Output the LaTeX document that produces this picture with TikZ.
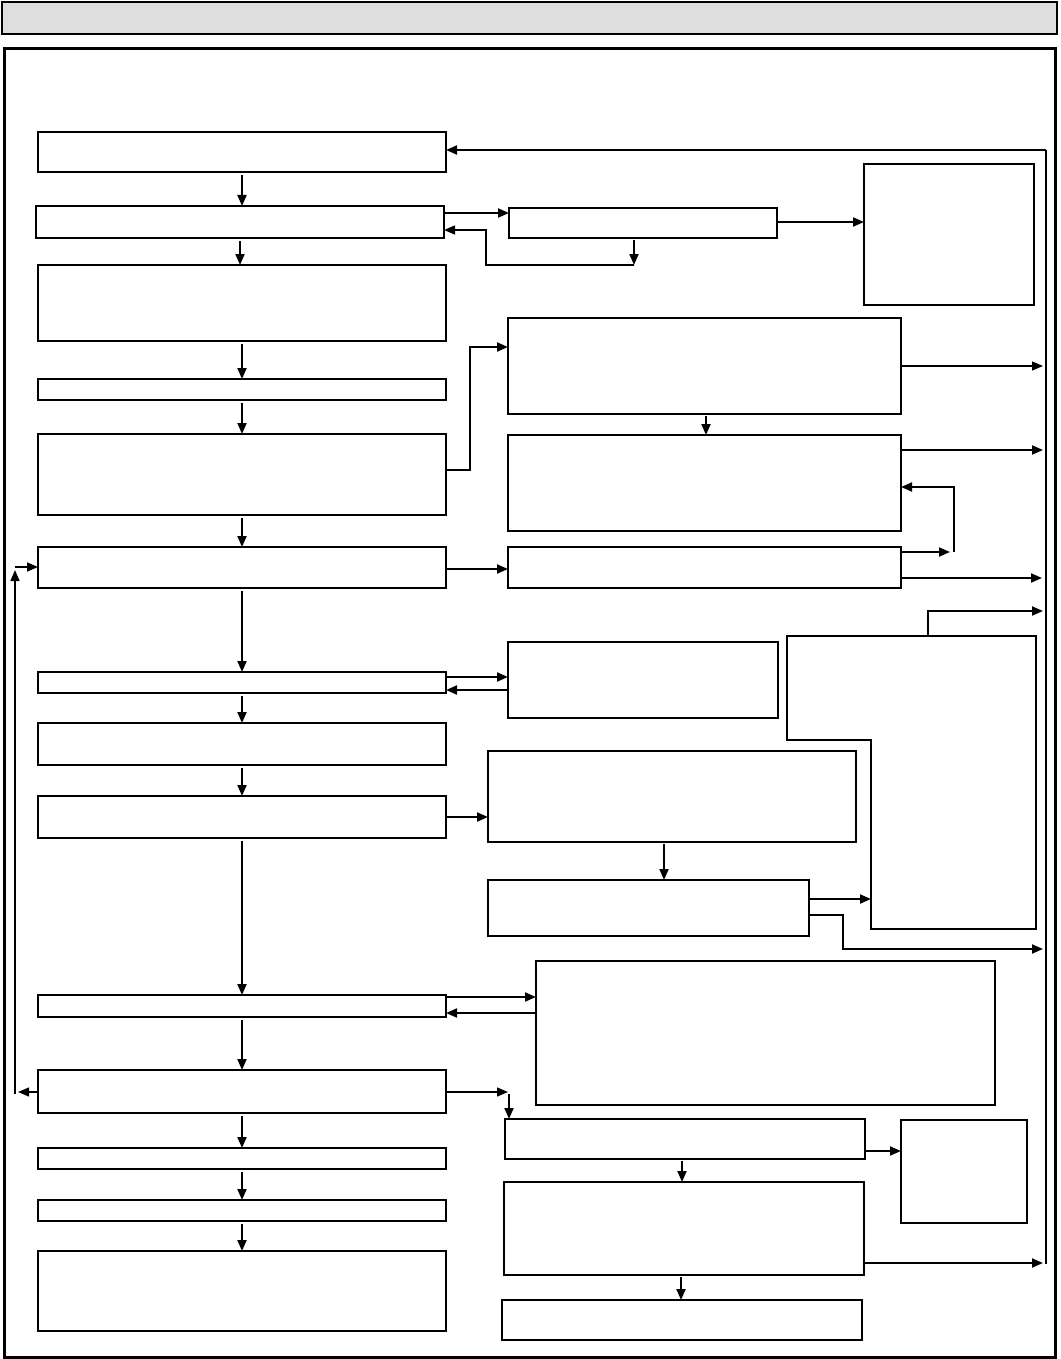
\documentclass[tikz,border=0pt]{standalone}
\usetikzlibrary{arrows.meta,calc}
\begin{document}
\begin{tikzpicture}[x=1pt,y=-1pt,
 box/.style={draw,line width=2pt,rectangle,inner sep=0pt,outer sep=0pt,fill=white},
 arr/.style={line width=2pt,-{Triangle[length=11pt,width=9pt]}},
 thinarr/.style={line width=1.2pt,-{Triangle[length=11pt,width=9pt]}},
 down/.style={arr,shorten <=3pt},
 ln/.style={line width=2pt}]
\useasboundingbox (0,0) rectangle (1060,1359);
\newcommand\bx[5]{\node[box,minimum width={#4-#2},minimum height={#5-#3}] (#1) at ({(#2+#4)/2},{(#3+#5)/2}) {};}
% header
\fill[black!13] (2,2) rectangle (1057,34);
\draw[line width=1.2pt] (2,2) rectangle (1057,34);
\draw[line width=2.5pt] (2,34) -- (1057,34) -- (1057,2);
% frame
\draw[line width=3pt] (4,49) rectangle (1055,1357);
% left column
\bx{B1}{38}{132}{446}{172}
\bx{B2}{36}{206}{444}{238}
\bx{B3}{38}{265}{446}{341}
\bx{B4}{38}{379}{446}{400}
\bx{B5}{38}{434}{446}{515}
\bx{B6}{38}{547}{446}{588}
\bx{B7}{38}{672}{446}{693}
\bx{B8}{38}{723}{446}{765}
\bx{B9}{38}{796}{446}{838}
\bx{B10}{38}{995}{446}{1017}
\bx{B11}{38}{1070}{446}{1113}
\bx{B12}{38}{1148}{446}{1169}
\bx{B13}{38}{1200}{446}{1221}
\bx{B14}{38}{1251}{446}{1331}
% right side
\bx{R1}{509}{208}{777}{238}
\bx{R2}{864}{164}{1034}{305}
\bx{R3}{508}{318}{901}{414}
\bx{R4}{508}{435}{901}{531}
\bx{R5}{508}{547}{901}{588}
\bx{R7}{508}{642}{778}{718}
\bx{R8}{488}{751}{856}{842}
\bx{R9}{488}{880}{809}{936}
\bx{R10}{536}{961}{995}{1105}
\bx{R11}{505}{1119}{865}{1159}
\bx{R12}{901}{1120}{1027}{1223}
\bx{R13}{504}{1182}{864}{1275}
\bx{R14}{502}{1300}{862}{1340}
% L-shaped box
\coordinate (R6a) at (787,636);
\coordinate (R6b) at (1036,636);
\coordinate (R6c) at (1036,929);
\coordinate (R6d) at (871,929);
\coordinate (R6e) at (871,740);
\coordinate (R6f) at (787,740);
\draw[line width=2pt,line join=miter] (R6a) -- (R6b) -- (R6c) -- (R6d) -- (R6e) -- (R6f) -- cycle;
% main down arrows
\draw[down] (B1.south) -- (B1.south |- B2.north);
\draw[down] (B2.south) -- (B2.south |- B3.north);
\draw[down] (B3.south) -- (B3.south |- B4.north);
\draw[down] (B4.south) -- (B4.south |- B5.north);
\draw[down] (B5.south) -- (B5.south |- B6.north);
\draw[down] (B6.south) -- (B6.south |- B7.north);
\draw[down] (B7.south) -- (B7.south |- B8.north);
\draw[down] (B8.south) -- (B8.south |- B9.north);
\draw[down] (B9.south) -- (B9.south |- B10.north);
\draw[down] (B10.south) -- (B10.south |- B11.north);
\draw[down] (B11.south) -- (B11.south |- B12.north);
\draw[down] (B12.south) -- (B12.south |- B13.north);
\draw[down] (B13.south) -- (B13.south |- B14.north);
% bus on the right
\coordinate (bt) at (1046,150);
\coordinate (bb) at (1046,1264);
\draw[ln] (bt) -- (bb);
\draw[arr] (bt) -- (B1.east |- bt);
% B2 <-> R1
\draw[arr] (B2.east |- 0,213) -- (R1.west |- 0,213);
\coordinate (r1d) at (634,265);
\draw[arr,shorten <=2pt] (R1.south -| r1d) -- (r1d);
\draw[arr,line width=1.5pt] (r1d) -| (486,230) -- (B2.east |- 0,230);
\draw[arr] (R1.east |- 0,222) -- (R2.west |- 0,222);
% B5 -> R3 -> R4
\draw[arr] (B5.east |- 0,470) -- (470,470) |- (R3.west |- 0,347);
\draw[thinarr,shorten >=3pt] (R3.east |- 0,366) -- (bt |- 0,366);
\draw[arr,shorten <=2pt] (R3.south -| 706,0) -- (R4.north -| 706,0);
\draw[arr,shorten >=3pt] (R4.east |- 0,450) -- (bt |- 0,450);
% B6 -> R5, loops
\draw[arr] (B6.east |- 0,569) -- (R5.west |- 0,569);
\draw[arr] (R5.east |- 0,552) -- (950,552);
\draw[arr] (954,552) -- (954,487) -- (R4.east |- 0,487);
\draw[arr,shorten >=4pt] (R5.east |- 0,578) -- (bt |- 0,578);
% R6 top -> bus
\draw[arr,shorten >=3pt] (928,636) |- (bt |- 0,611);
% B7 <-> R7
\draw[arr] (B7.east |- 0,677) -- (R7.west |- 0,677);
\draw[arr] (R7.west |- 0,690) -- (B7.east |- 0,690);
% B9 -> R8 -> R9
\draw[arr] (B9.east |- 0,817) -- (R8.west |- 0,817);
\draw[arr,shorten <=2pt] (R8.south -| 664,0) -- (R9.north -| 664,0);
\draw[arr] (R9.east |- 0,899) -- (R6e |- 0,899);
\draw[arr,shorten >=3pt] (R9.east |- 0,915) -- (843,915) |- (bt |- 0,949);
% B10 <-> R10
\draw[arr] (B10.east |- 0,997) -- (R10.west |- 0,997);
\draw[arr] (R10.west |- 0,1013) -- (B10.east |- 0,1013);
% B11 -> R11
\draw[thinarr] (B11.east |- 0,1092) -- (508,1092);
\draw[arr] (509,1094) -- (R11.north -| 509,0);
% left feedback
\draw[arr,line width=1.2pt] (B11.west |- 0,1092) -- (18,1092);
\draw[arr,line width=1.5pt] (15,1094) -- (15,570);
\draw[arr,line width=1.5pt] (15,567) -- (B6.west |- 0,567);
% R11 -> R12, R13, R14
\draw[arr] (R11.east |- 0,1151) -- (R12.west |- 0,1151);
\draw[arr,shorten <=2pt] (R11.south -| 682,0) -- (R13.north -| 682,0);
\draw[arr,shorten >=3pt] (R13.east |- 0,1263) -- (bb |- 0,1263);
\draw[arr,shorten <=2pt] (R13.south -| 681,0) -- (R14.north -| 681,0);
\end{tikzpicture}
\end{document}
